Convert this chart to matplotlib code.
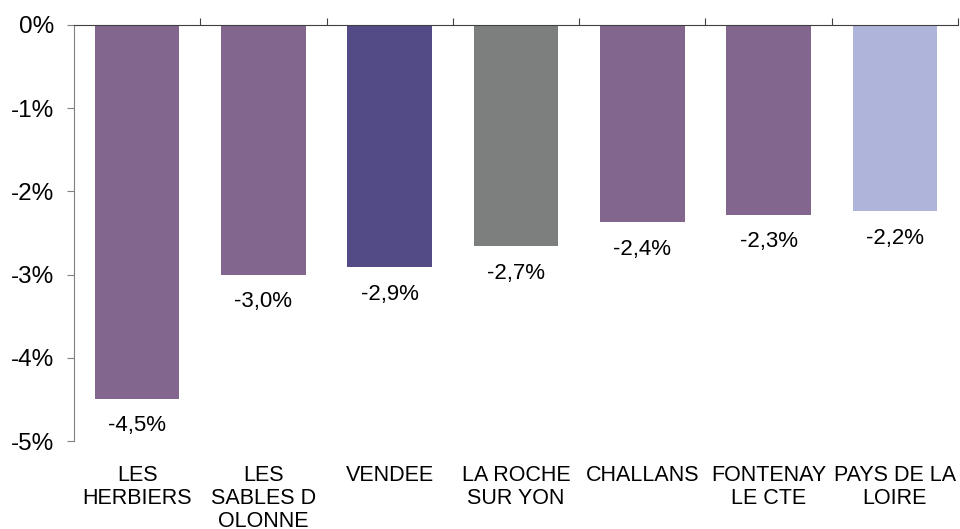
import numpy as np
import matplotlib.pyplot as plt

plt.rcParams['font.family'] = ['Liberation Sans', 'DejaVu Sans']

categories = ['LES\nHERBIERS', 'LES\nSABLES D\nOLONNE', 'VENDEE', 'LA ROCHE\nSUR YON',
              'CHALLANS', 'FONTENAY\nLE CTE', 'PAYS DE LA\nLOIRE']
values = [-4.49, -3.00, -2.91, -2.66, -2.37, -2.28, -2.24]
labels = ['-4,5%', '-3,0%', '-2,9%', '-2,7%', '-2,4%', '-2,3%', '-2,2%']
colors = ['#83668D', '#83668D', '#534B86', '#7C7F7E', '#83668D', '#83668D', '#AFB4DA']

fig = plt.figure(figsize=(9.6, 5.29), dpi=100)
ax = fig.add_axes([0.077, 0.166, 0.921, 0.787])

x = np.arange(len(categories))
ax.bar(x, values, width=0.67, color=colors, zorder=2)

for xi, v, lab in zip(x, values, labels):
    ax.text(xi, v - 0.2, lab, ha='center', va='top', fontsize=16)

ax.set_xlim(-0.5, len(categories) - 0.5)
ax.set_ylim(-5, 0)
ax.set_yticks([0, -1, -2, -3, -4, -5])
ax.set_yticklabels(['0%', '-1%', '-2%', '-3%', '-4%', '-5%'], fontsize=17.5)
ax.tick_params(axis='y', length=5, color='#808080', pad=9)

# category boundary ticks on the zero line, pointing up
ax.set_xticks(np.arange(0.5, len(categories), 1.0))
ax.set_xticklabels([])
ax.tick_params(axis='x', direction='out', length=5, top=True, bottom=False, color='#404040')
ax.xaxis.set_ticks_position('top')
ax.tick_params(axis='x', labeltop=False)

for xi, c in zip(x, categories):
    ax.text(xi, -5.28, c, ha='center', va='top', fontsize=15.5, linespacing=1.15,
            clip_on=False)

ax.spines['right'].set_visible(False)
ax.spines['bottom'].set_visible(False)
ax.spines['left'].set_color('#808080')
ax.spines['top'].set_color('#404040')

fig.savefig('out.png', dpi=100)
